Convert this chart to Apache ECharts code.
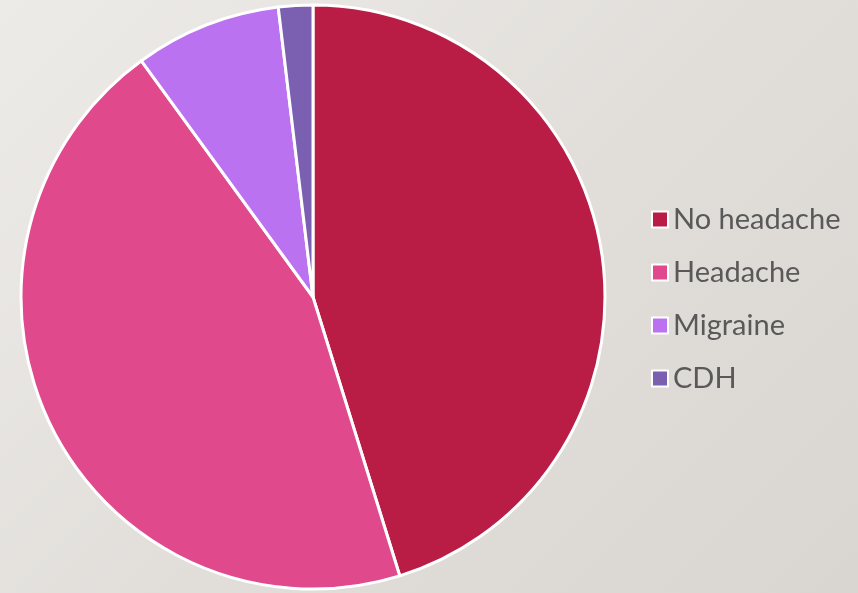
<!DOCTYPE html>
<html><head><meta charset="utf-8">
<script src="https://cdn.jsdelivr.net/npm/echarts@6/dist/echarts.min.js"></script>
<style>html,body{margin:0;padding:0;}#c{width:858px;height:593px;background:linear-gradient(135deg,#edebe8 0%,#e2dfdb 50%,#d9d6d1 100%);}</style>
</head><body><div id="c"></div>
<script>
const categories = ["No headache", "Headache", "Migraine", "CDH"];
const values = [45.2, 44.8, 8.1, 1.9];
const colors = ["#b91c44", "#e0498c", "#bb72f0", "#7b5fb0"];

const chart = echarts.init(document.getElementById('c'));
chart.setOption({
  backgroundColor: 'transparent',
  animation: false,
  legend: {
    orient: 'vertical',
    left: 646,
    top: 200,
    itemWidth: 16,
    itemHeight: 16,
    itemGap: 24,
    icon: 'rect',
    itemStyle: { borderColor: '#ffffff', borderWidth: 2 },
    textStyle: { fontFamily: 'Lato', fontSize: 29, color: '#595959', padding: [0, 0, 0, 0] },
    data: categories
  },
  series: [{
    type: 'pie',
    center: [313, 297],
    radius: [0, 292],
    startAngle: 90,
    clockwise: true,
    label: { show: false },
    labelLine: { show: false },
    itemStyle: { borderColor: '#ffffff', borderWidth: 3 },
    data: categories.map((n, i) => ({ name: n, value: values[i], itemStyle: { color: colors[i] } }))
  }]
});
</script></body></html>
